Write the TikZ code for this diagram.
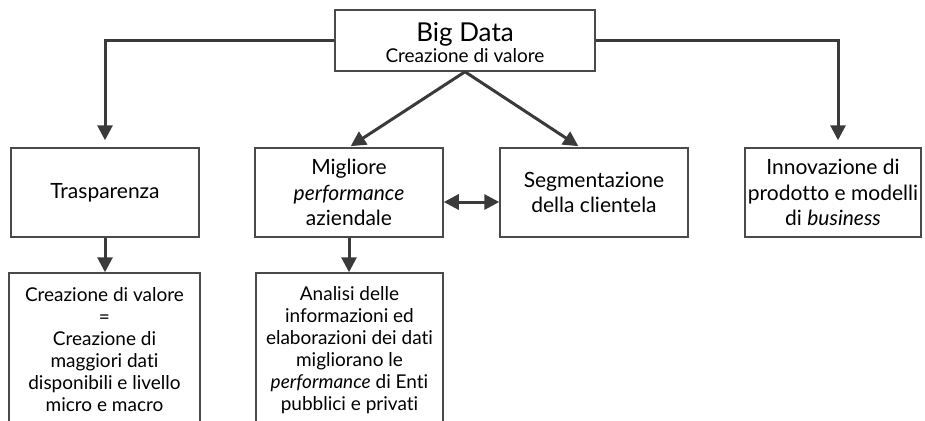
\documentclass[tikz,border=0pt]{standalone}
\usepackage{fontspec}
\setmainfont{Lato}[Ligatures={NoCommon,NoRequired,NoContextual}]
\usetikzlibrary{arrows.meta}
\definecolor{ink}{HTML}{3A3A3A}
\definecolor{frame}{HTML}{4A4A4A}
\begin{document}
\begin{tikzpicture}[x=0.5pt,y=-0.5pt,
  box/.style={draw=frame, line width=0.75pt, fill=white, inner sep=0pt,
    align=center, text=black},
  upper/.style={box, minimum width=94pt, minimum height=44.5pt,
    font=\fontsize{10.5}{12.75}\selectfont},
  lower/.style={box, minimum height=77pt,
    font=\fontsize{9.5}{11}\selectfont},
  link/.style={draw=ink, line width=1.5pt,
    -{Triangle[length=7.5pt,width=7.5pt]}},
  twoway/.style={draw=ink, line width=1.5pt,
    {Triangle[length=7.5pt,width=7.5pt]}-{Triangle[length=7.5pt,width=7.5pt]}}]
\useasboundingbox (0,0) rectangle (925,420);
\clip (0,0) rectangle (925,420);

% root
\node[box, minimum width=130pt, minimum height=30.5pt] (root) at (465,40.5)
  {\rule{0pt}{12pt}{\fontsize{13}{13}\selectfont Big Data}\\[-1.5pt]
   {\fontsize{9.5}{11}\selectfont Creazione di valore}};

% first level
\node[upper] (trasp) at (105,192.5) {Trasparenza};
\node[upper] (migl) at (349,192.5) {Migliore\\\textit{performance}\\aziendale};
\node[upper] (segm) at (594,192.5) {Segmentazione\\della clientela};
\node[upper, minimum width=88pt] (innov) at (833,192.5)
  {Innovazione di\\prodotto e modelli\\di \textit{business}};

% second level
\node[lower, minimum width=95.5pt] (creaz) at (104.5,350)
  {Creazione di valore\\=\\Creazione di\\maggiori dati\\disponibili e livello\\micro e macro};
\node[lower, minimum width=93.5pt] (anal) at (349.5,350)
  {Analisi delle\\informazioni ed\\elaborazioni dei dati\\migliorano le\\\textit{performance} di Enti\\pubblici e privati};

% connectors
\coordinate (innovIn) at ([xshift=2.5pt]innov.north);
\coordinate (segmIn) at ([xshift=-7pt]segm.north);
\draw[link, shorten >=3.5pt] (root.west) -| (trasp.north);
\draw[link, shorten >=3.5pt] (root.east) -| (innovIn);
\draw[link, shorten >=1pt] (root.south) -- (migl.north);
\draw[link, shorten >=1pt] (root.south) -- (segmIn);
\draw[twoway] ([yshift=-4.75pt]migl.east) -- ([yshift=-4.75pt]segm.west);
\draw[link] (trasp.south) -- (trasp.south |- creaz.north);
\draw[link] (migl.south) -- (migl.south |- anal.north);
\end{tikzpicture}
\end{document}
